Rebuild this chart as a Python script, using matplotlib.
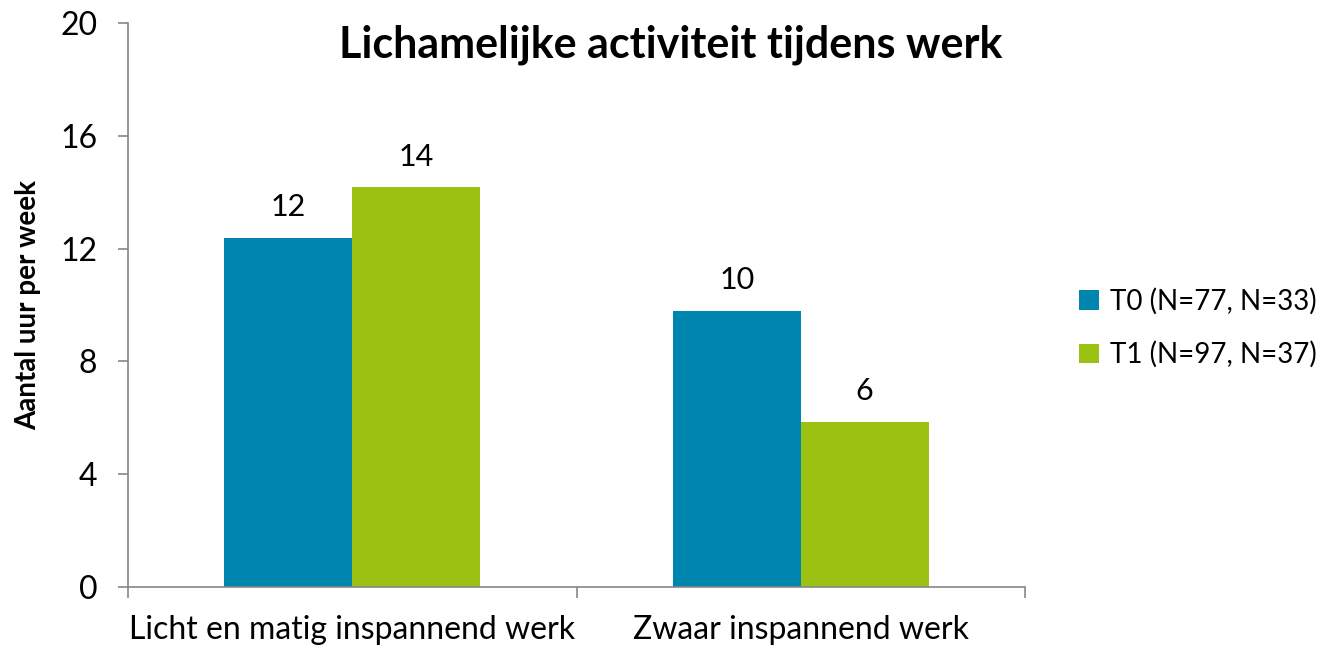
import matplotlib.pyplot as plt
import numpy as np

plt.rcParams['font.family'] = ['Lato', 'DejaVu Sans']

categories = ["Licht en matig inspannend werk", "Zwaar inspannend werk"]
series = ["T0 (N=77, N=33)", "T1 (N=97, N=37)"]
t0 = [12.38, 9.79]
t1 = [14.18, 5.85]
colors = ["#0086AE", "#9BC212"]

fig = plt.figure(figsize=(13.31, 6.48), dpi=100)
ax = fig.add_axes([128 / 1331, 61 / 648, 897 / 1331, 564 / 648])

x = np.arange(len(categories))
w = 0.285
bars0 = ax.bar(x - w / 2, t0, w, color=colors[0], label=series[0])
bars1 = ax.bar(x + w / 2, t1, w, color=colors[1], label=series[1])

for bars in (bars0, bars1):
    for b in bars:
        h = b.get_height()
        ax.annotate(f"{h:.0f}", (b.get_x() + b.get_width() / 2, h),
                    xytext=(0, 22), textcoords="offset points",
                    ha="center", va="center", fontsize=22)

ax.set_xlim(-0.5, 1.5)
ax.set_ylim(0, 20)
ax.set_yticks([0, 4, 8, 12, 16, 20])
ax.set_xticks([-0.5, 0.5, 1.5])
ax.set_xticklabels([])
ax.set_xticks(x, minor=True)
ax.set_xticklabels(categories, minor=True)
ax.tick_params(axis="x", which="minor", length=0, labelsize=23, pad=20)
ax.tick_params(axis="x", which="major", length=8, color="#868686", width=1.2)
ax.tick_params(axis="y", length=7, color="#868686", width=1.2, labelsize=23, pad=15)

for s in ("top", "right"):
    ax.spines[s].set_visible(False)
for s in ("left", "bottom"):
    ax.spines[s].set_color("#868686")
    ax.spines[s].set_linewidth(1.2)

ax.set_ylabel("Aantal uur per week", fontsize=20, fontweight="bold", labelpad=14)

fig.text(671 / 1331, 1 - 45 / 648, "Lichamelijke activiteit tijdens werk",
         ha="center", va="center", fontsize=31, fontweight="bold")

fig.legend(loc="center left", bbox_to_anchor=(1060 / 1331, 1 - 328 / 648),
           frameon=False, fontsize=20, handlelength=0.7, handleheight=0.7,
           handletextpad=0.4, labelspacing=0.95, borderpad=0.2)

fig.savefig("out.png", dpi=100)
